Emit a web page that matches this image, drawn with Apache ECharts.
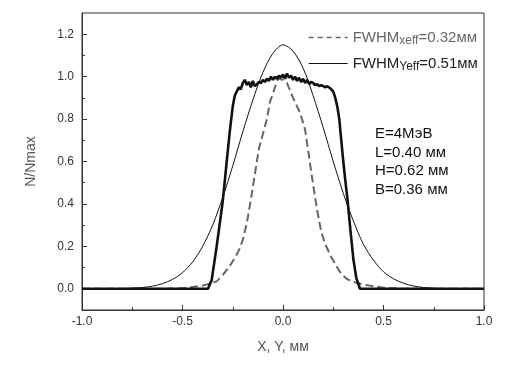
<!DOCTYPE html>
<html><head><meta charset="utf-8">
<script src="https://cdn.jsdelivr.net/npm/echarts@6/dist/echarts.min.js"></script>
<style>html,body{margin:0;padding:0;background:#fff}#c{width:509px;height:369px}</style>
</head><body><div id="c"></div>
<script>
// ---- data ----
const xTicks = [-1.0, -0.5, 0.0, 0.5, 1.0];
const yTickLabels = [0.0, 0.2, 0.4, 0.6, 0.8, 1.0, 1.2];
const yMinorTicks = [0.1, 0.3, 0.5, 0.7, 0.9, 1.1];

// thick solid: flat-top profile
const flatX = [-1.0,-0.373,-0.355,-0.33,-0.30,-0.28,-0.265,-0.25,-0.24,-0.23,-0.22,-0.21,-0.20,-0.19,-0.18,-0.17,-0.16,-0.15,-0.14,-0.13,-0.12,-0.11,-0.10,-0.09,-0.08,-0.07,-0.06,-0.05,-0.04,-0.03,-0.02,-0.01,0.0,0.01,0.02,0.03,0.04,0.05,0.06,0.07,0.08,0.09,0.10,0.11,0.12,0.13,0.14,0.15,0.16,0.17,0.18,0.19,0.20,0.21,0.22,0.235,0.25,0.26,0.27,0.28,0.29,0.30,0.31,0.32,0.335,0.35,0.365,0.383,1.0];
const flatY = [0,0,0.04,0.2,0.41,0.6,0.74,0.86,0.91,0.93,0.95,0.94,0.97,0.985,0.96,0.975,0.95,0.98,0.955,0.965,0.975,0.97,0.985,0.975,0.99,0.98,1.0,0.985,1.0,0.99,1.005,0.995,1.01,0.99,1.015,0.995,1.005,0.985,1.0,0.98,0.995,0.975,0.99,0.97,0.985,0.965,0.975,0.97,0.96,0.965,0.955,0.96,0.955,0.95,0.955,0.945,0.93,0.9,0.86,0.8,0.7,0.6,0.51,0.43,0.28,0.14,0.05,0,0];

// dashed gray: FWHMxeff
const xeffX = [-1.0,-0.6,-0.5,-0.45,-0.4,-0.36,-0.33,-0.3,-0.27,-0.25,-0.22,-0.2,-0.18,-0.16,-0.14,-0.12,-0.1,-0.08,-0.065,-0.04,-0.025,0.0,0.02,0.05,0.085,0.11,0.13,0.15,0.17,0.19,0.21,0.24,0.27,0.29,0.32,0.36,0.4,0.45,0.5,0.6,1.0];
const xeffY = [0,0,0.003,0.008,0.015,0.025,0.035,0.065,0.1,0.13,0.18,0.23,0.31,0.42,0.54,0.66,0.73,0.8,0.88,0.95,0.99,0.985,0.97,0.9,0.83,0.75,0.62,0.49,0.37,0.27,0.21,0.15,0.1,0.07,0.045,0.03,0.02,0.012,0.005,0,0];

// thin solid: FWHMyeff
const yeffX = [-1.0,-0.8,-0.75,-0.7,-0.65,-0.6,-0.55,-0.5,-0.45,-0.4,-0.35,-0.3,-0.25,-0.2,-0.15,-0.1,-0.05,0.0,0.05,0.1,0.15,0.2,0.25,0.3,0.35,0.4,0.45,0.5,0.55,0.6,0.65,0.7,0.75,0.8,1.0];
const yeffY = [0,0.001,0.003,0.006,0.012,0.024,0.044,0.076,0.126,0.2,0.3,0.43,0.58,0.74,0.89,1.02,1.11,1.15,1.12,1.04,0.91,0.76,0.6,0.45,0.32,0.21,0.135,0.08,0.047,0.026,0.013,0.006,0.003,0.001,0];

const annotation = ['E=4МэВ', 'L=0.40 мм', 'H=0.62 мм', 'B=0.36 мм'];
const xName = 'X, Y, мм';
const yName = 'N/Nmax';

const zip = (a, b) => a.map((v, i) => [v, b[i]]);
const FONT = 'Liberation Sans, Arial, sans-serif';

const chart = echarts.init(document.getElementById('c'), null, {renderer: 'canvas'});
chart.setOption({
  animation: false,
  backgroundColor: '#fff',
  grid: {left: 82, right: 25, top: 13, bottom: 59, show: true, borderColor: '#333', borderWidth: 1, backgroundColor: 'transparent'},
  xAxis: {
    type: 'value', min: -1, max: 1, interval: 0.5,
    name: xName, nameLocation: 'middle', nameGap: 30,
    nameTextStyle: {fontFamily: FONT, fontSize: 14, color: '#555'},
    axisLine: {show: true, onZero: false, lineStyle: {color: '#333', width: 1}},
    axisTick: {show: true, inside: true, length: 5, lineStyle: {color: '#333'}},
    minorTick: {show: true, splitNumber: 2, length: 3, lineStyle: {color: '#333'}},
    axisLabel: {fontFamily: FONT, fontSize: 12, color: '#333', margin: 6, formatter: v => v.toFixed(1)},
    splitLine: {show: false}
  },
  yAxis: [{
    type: 'value', min: -0.1, max: 1.3,
    name: yName, nameLocation: 'middle', nameGap: 44, nameRotate: 90,
    nameTextStyle: {fontFamily: FONT, fontSize: 14, color: '#555'},
    axisLine: {show: true, onZero: false, lineStyle: {color: '#333', width: 1}},
    axisTick: {show: true, inside: true, length: 5, customValues: yTickLabels, lineStyle: {color: '#333'}},
    axisLabel: {fontFamily: FONT, fontSize: 12, color: '#333', margin: 8, customValues: yTickLabels, formatter: v => v.toFixed(1)},
    splitLine: {show: false}
  }, {
    type: 'value', min: -0.1, max: 1.3, position: 'left',
    axisLine: {show: false, onZero: false},
    axisTick: {show: true, inside: true, length: 3, customValues: yMinorTicks, lineStyle: {color: '#333'}},
    axisLabel: {show: false, customValues: yMinorTicks},
    splitLine: {show: false}
  }],
  legend: {
    orient: 'vertical', left: 303, top: 23, itemWidth: 39, itemHeight: 12, itemGap: 7,
    data: [
      {name: 'FWHMxeff', textStyle: {color: '#666'}, itemStyle: {opacity: 0}, lineStyle: {width: 1.3, type: [5, 4], color: '#666'}},
      {name: 'FWHMyeff', textStyle: {color: '#222'}, itemStyle: {opacity: 0}, lineStyle: {width: 1, color: '#111'}}
    ],
    textStyle: {
      fontFamily: FONT, fontSize: 15,
      rich: {
        a: {fontFamily: FONT, fontSize: 15, lineHeight: 17},
        s: {fontFamily: FONT, fontSize: 12, lineHeight: 17, padding: [7, 0, 0, 0]}
      }
    },
    formatter: n => n === 'FWHMxeff' ? '{a|FWHM}{s|xeff}{a|=0.32мм}' : '{a|FWHM}{s|Yeff}{a|=0.51мм}'
  },
  graphic: [{
    type: 'text', left: 375, top: 125,
    style: {text: annotation.join('\n'), font: '15px ' + FONT, fill: '#111', lineHeight: 18.5}
  }],
  series: [
    {name: 'flat', type: 'line', data: zip(flatX, flatY), symbol: 'none', lineStyle: {color: '#111', width: 2.6}, z: 3},
    {name: 'FWHMxeff', type: 'line', data: zip(xeffX, xeffY), symbol: 'none', lineStyle: {color: '#666', width: 2, type: [8, 4]}, itemStyle: {color: '#666'}, z: 2},
    {name: 'FWHMyeff', type: 'line', data: zip(yeffX, yeffY), symbol: 'none', smooth: 0.3, lineStyle: {color: '#111', width: 1}, itemStyle: {color: '#111'}, z: 2}
  ]
});
</script></body></html>
